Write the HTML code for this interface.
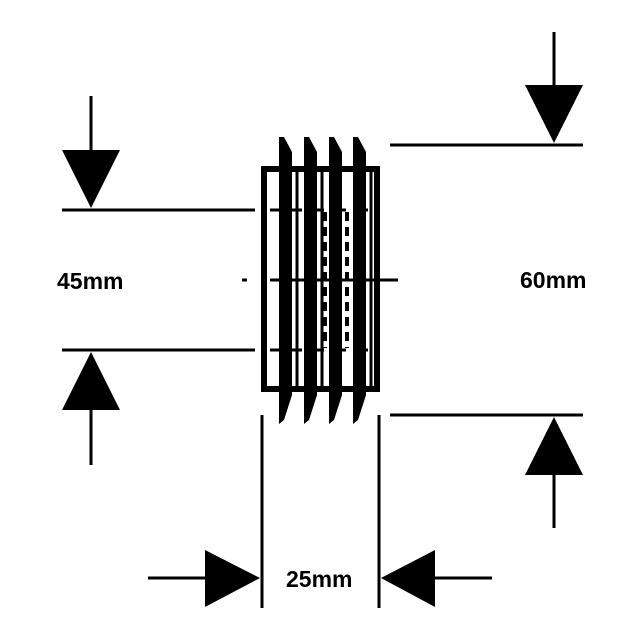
<!DOCTYPE html>
<html><head><style>body{margin:0;background:#fff}svg{display:block}</style></head><body>
<svg width="640" height="640" viewBox="0 0 640 640" xmlns="http://www.w3.org/2000/svg">
<rect width="640" height="640" fill="#fff"/>
<g stroke="#000" stroke-width="3" fill="none">
<line x1="91" y1="96" x2="91" y2="155"/>
<line x1="62" y1="210" x2="255" y2="210"/>
<line x1="62" y1="350" x2="255" y2="350"/>
<line x1="91" y1="405" x2="91" y2="465"/>
<line x1="554" y1="32" x2="554" y2="90"/>
<line x1="390" y1="145" x2="583" y2="145"/>
<line x1="390" y1="415" x2="583" y2="415"/>
<line x1="554" y1="470" x2="554" y2="528"/>
<line x1="262" y1="415" x2="262" y2="608"/>
<line x1="379" y1="415" x2="379" y2="608"/>
<line x1="148" y1="578" x2="210" y2="578"/>
<line x1="430" y1="578" x2="492" y2="578"/>
<line x1="242" y1="280" x2="247" y2="280"/>
<line x1="270" y1="280" x2="398" y2="280"/>
</g>
<g fill="#000">
<polygon points="62,150 120,150 91,208"/>
<polygon points="62,410 120,410 91,352"/>
<polygon points="525,85 583,85 554,143"/>
<polygon points="525,475 583,475 554,417"/>
<polygon points="205,550 205,607 260,578"/>
<polygon points="435,550 435,607 381,578"/>
</g>
<rect x="264" y="169" width="113" height="220" fill="none" stroke="#000" stroke-width="6"/>
<g fill="#000">
<polygon points="279,137 284,137 292,152 292,395 284,420 279,424 279,160"/>
<polygon points="304,137 309,137 317,152 317,395 309,420 304,424 304,160"/>
<polygon points="329,137 334,137 342,152 342,395 334,420 329,424 329,160"/>
<polygon points="353,137 358,137 366,152 366,395 358,420 353,424 353,160"/>
</g>
<g stroke="#000" stroke-width="4" fill="none" stroke-dasharray="9,6">
<line x1="325" y1="212" x2="325" y2="348"/>
<line x1="347" y1="212" x2="347" y2="348"/>
<line x1="364" y1="212" x2="364" y2="348"/>
</g>
<g stroke="#000" stroke-width="3" fill="none">
<line x1="270" y1="210" x2="375" y2="210" stroke-dasharray="10,12"/>
<line x1="270" y1="350" x2="375" y2="350" stroke-dasharray="10,12"/>
<line x1="297" y1="170" x2="297" y2="388"/>
<line x1="322" y1="170" x2="322" y2="388"/>
<line x1="371" y1="170" x2="371" y2="388"/>
</g>
<g font-family="Liberation Sans, sans-serif" font-weight="bold" font-size="23" fill="#000">
<text x="57" y="289">45mm</text>
<text x="520" y="288">60mm</text>
<text x="286" y="587">25mm</text>
</g>
</svg>
</body></html>
